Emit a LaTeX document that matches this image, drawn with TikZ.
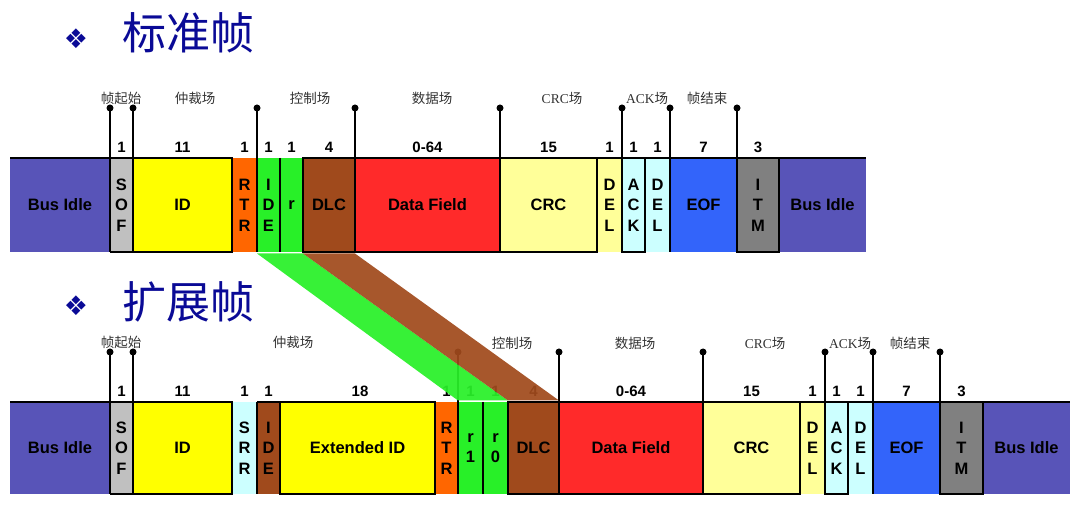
\documentclass[tikz,border=0pt]{standalone}
\usepackage{fontspec}
\setmainfont{Liberation Sans}
\newfontfamily\cjk{Noto Sans CJK SC}
\newfontfamily\symf{DejaVu Sans}
\newfontfamily\serifL{Liberation Serif}
\definecolor{busc}{RGB}{88,84,184}
\definecolor{sofc}{RGB}{192,192,192}
\definecolor{idc}{RGB}{255,255,0}
\definecolor{rtrc}{RGB}{255,102,0}
\definecolor{grnc}{RGB}{40,240,40}
\definecolor{brnc}{RGB}{160,74,28}
\definecolor{redc}{RGB}{255,42,42}
\definecolor{lyc}{RGB}{255,255,153}
\definecolor{cyc}{RGB}{204,255,255}
\definecolor{eofc}{RGB}{51,100,250}
\definecolor{itmc}{RGB}{128,128,128}
\definecolor{titc}{RGB}{10,10,150}
\definecolor{labc}{RGB}{50,50,50}
\newcommand\cfield[5]{%
  \fill[#4] (#2,\yT) rectangle (#3,\yB);
  \node[fldlbl] (#1) at ({(#2+#3)/2},{(\yT+\yB)/2}) {#5};}
\newcommand\cbord[2]{\draw[bordln] (#1,\yT) rectangle (#2,\yB);}
\newcommand\cnum[3]{\node[numlbl] (#1) at (#2,\yN) {#3};}
\newcommand\cpin[2]{\draw[pinln] (#2,\yP) -- (#2,\yB); \fill (#2,\yP) circle (3.5); \coordinate (#1) at (#2,\yP);}
\begin{document}
\begin{tikzpicture}[x=1pt,y=-1pt,
  fldlbl/.style={font=\bfseries\fontsize{16.5}{20.5}\selectfont, align=center, inner sep=0pt},
  numlbl/.style={font=\bfseries\fontsize{15}{15}\selectfont, inner sep=0pt},
  caplbl/.style={font=\cjk\fontsize{13.5}{14}\selectfont, text=labc, inner sep=0pt},
  bordln/.style={line width=2.8pt, line join=miter},
  pinln/.style={line width=2pt},
  ttllbl/.style={font=\cjk\fontsize{44}{44}\selectfont, text=titc, inner sep=0pt},
  dialbl/.style={font=\symf\fontsize{27}{27}\selectfont, text=titc, inner sep=0pt}]
\useasboundingbox (0,0) rectangle (1080,510);
% titles
\node[dialbl] (d1) at (76,39) {❖};
\node[ttllbl] (t1) at (188,33) {标准帧};
\node[dialbl] (d2) at (76,306) {❖};
\node[ttllbl] (t2) at (188,302) {扩展帧};
%% ---------- standard frame ----------
\def\yT{158}\def\yB{252}\def\yN{147}\def\yP{108}
\cfield{a1}{10}{110}{busc}{Bus Idle}
\cfield{a2}{110}{133}{sofc}{S\\O\\F}
\cfield{a3}{133}{232}{idc}{ID}
\cfield{a4}{232}{257}{rtrc}{R\\T\\R}
\cfield{a5}{257}{280}{grnc}{I\\D\\E}
\cfield{a6}{280}{303}{grnc}{r}
\cfield{a7}{303}{355}{brnc}{DLC}
\cfield{a8}{355}{500}{redc}{Data Field}
\cfield{a9}{500}{597}{lyc}{CRC}
\cfield{a10}{597}{622}{lyc}{D\\E\\L}
\cfield{a11}{622}{645}{cyc}{A\\C\\K}
\cfield{a12}{645}{670}{cyc}{D\\E\\L}
\cfield{a13}{670}{737}{eofc}{EOF}
\cfield{a14}{737}{779}{itmc}{I\\T\\M}
\cfield{a15}{779}{866}{busc}{Bus Idle}
\draw[bordln] (10,\yT) -- (232,\yT);
\draw[bordln] (303,\yT) -- (866,\yT);
\draw[bordln] (110,\yB) -- (133,\yB);
\cbord{133}{232}
\draw[bordln] (280,\yT) -- (280,\yB);
\cbord{303}{355}
\cbord{355}{500}
\cbord{500}{597}
\cbord{622}{645}
\cbord{737}{779}
\cpin{pa1}{110}\cpin{pa2}{133}\cpin{pa3}{257}\cpin{pa4}{355}
\cpin{pa5}{500}\cpin{pa6}{622}\cpin{pa7}{670}\cpin{pa8}{737}
\cnum{na1}{121.5}{1}\cnum{na2}{182.5}{11}\cnum{na3}{244.5}{1}\cnum{na4}{268.5}{1}
\cnum{na5}{291.5}{1}\cnum{na6}{329}{4}\cnum{na7}{427.5}{0-64}\cnum{na8}{548.5}{15}
\cnum{na9}{609.5}{1}\cnum{na10}{633.5}{1}\cnum{na11}{657.5}{1}\cnum{na12}{703.5}{7}
\cnum{na13}{758}{3}
\node[caplbl] (ca1) at (121,98) {帧起始};
\node[caplbl] (ca2) at (195,98) {仲裁场};
\node[caplbl] (ca3) at (310,98) {控制场};
\node[caplbl] (ca4) at (432,98) {数据场};
\node[caplbl] (ca5) at (562,98) {{\serifL CRC}场};
\node[caplbl] (ca6) at (647,98) {{\serifL ACK}场};
\node[caplbl] (ca7) at (707,98) {帧结束};
%% ---------- extended frame ----------
\def\yT{402}\def\yB{494}\def\yN{391}\def\yP{352}
\cfield{b1}{10}{110}{busc}{Bus Idle}
\cfield{b2}{110}{133}{sofc}{S\\O\\F}
\cfield{b3}{133}{232}{idc}{ID}
\cfield{b4}{232}{257}{cyc}{S\\R\\R}
\cfield{b5}{257}{280}{brnc}{I\\D\\E}
\cfield{b6}{280}{435}{idc}{Extended ID}
\cfield{b7}{435}{458}{rtrc}{R\\T\\R}
\cfield{b8}{458}{483}{grnc}{r\\1}
\cfield{b9}{483}{508}{grnc}{r\\0}
\cfield{b10}{508}{559}{brnc}{DLC}
\cfield{b11}{559}{703}{redc}{Data Field}
\cfield{b12}{703}{800}{lyc}{CRC}
\cfield{b13}{800}{825}{lyc}{D\\E\\L}
\cfield{b14}{825}{848}{cyc}{A\\C\\K}
\cfield{b15}{848}{873}{cyc}{D\\E\\L}
\cfield{b16}{873}{940}{eofc}{EOF}
\cfield{b17}{940}{983}{itmc}{I\\T\\M}
\cfield{b18}{983}{1070}{busc}{Bus Idle}
\draw[bordln] (10,\yT) -- (232,\yT);
\draw[bordln] (257,\yT) -- (435,\yT);
\draw[bordln] (508,\yT) -- (1070,\yT);
\draw[bordln] (110,\yB) -- (133,\yB);
\cbord{133}{232}
\draw[bordln] (257,\yT) -- (257,\yB);
\cbord{280}{435}
\draw[bordln] (483,\yT) -- (483,\yB);
\cbord{508}{559}
\cbord{559}{703}
\cbord{703}{800}
\cbord{825}{848}
\cbord{940}{983}
\cpin{pb1}{110}\cpin{pb2}{133}\cpin{pb3}{458}\cpin{pb4}{559}
\cpin{pb5}{703}\cpin{pb6}{825}\cpin{pb7}{873}\cpin{pb8}{940}
\cnum{nb1}{121.5}{1}\cnum{nb2}{182.5}{11}\cnum{nb3}{244.5}{1}\cnum{nb4}{268.5}{1}
\cnum{nb5}{360}{18}\cnum{nb6}{446.5}{1}\cnum{nb7}{470.5}{1}\cnum{nb8}{495.5}{1}
\cnum{nb9}{533.5}{4}\cnum{nb10}{631}{0-64}\cnum{nb11}{751.5}{15}\cnum{nb12}{812.5}{1}
\cnum{nb13}{836.5}{1}\cnum{nb14}{860.5}{1}\cnum{nb15}{906.5}{7}\cnum{nb16}{961.5}{3}
\node[caplbl] (cb1) at (121,342) {帧起始};
\node[caplbl] (cb2) at (293,342) {仲裁场};
\node[caplbl] (cb3) at (512,343) {控制场};
\node[caplbl] (cb4) at (635,343) {数据场};
\node[caplbl] (cb5) at (765,343) {{\serifL CRC}场};
\node[caplbl] (cb6) at (850,343) {{\serifL ACK}场};
\node[caplbl] (cb7) at (910,343) {帧结束};
%% ---------- mapping bands ----------
\fill[grnc, opacity=0.93] (257,253.5) -- (303,253.5) -- (508,400.5) -- (458,400.5) -- cycle;
\fill[brnc, opacity=0.93] (303,253.5) -- (355,253.5) -- (559,400.5) -- (508,400.5) -- cycle;
\end{tikzpicture}
\end{document}
